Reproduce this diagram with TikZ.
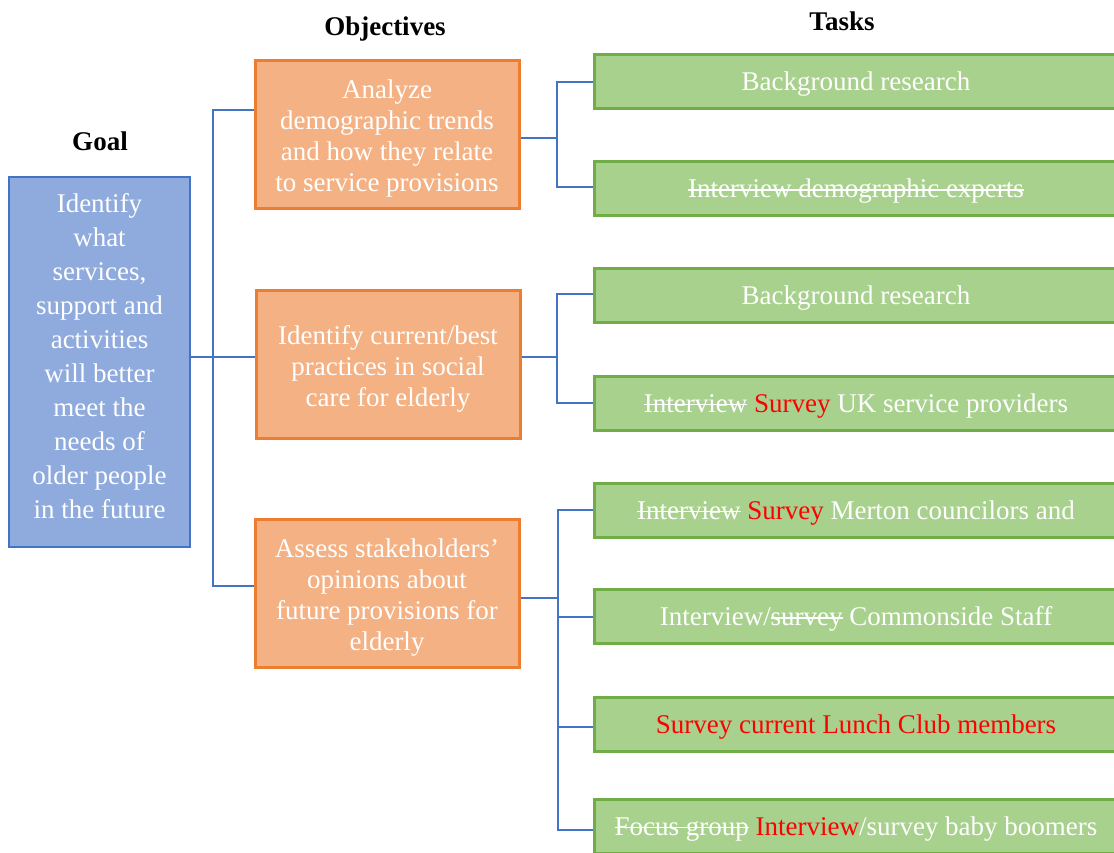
\documentclass[tikz,border=0pt]{standalone}
\usepackage{fontspec}
\setmainfont{Liberation Serif}
\newcommand\strk[1]{\begingroup\setbox0\hbox{#1}\rlap{\rule[0.25em]{\wd0}{1.4pt}}\box0\endgroup}
\newcommand\topstrut[1]{\rule{0pt}{#1}}
\newcommand\botstrut[1]{\rule[-#1]{0pt}{#1}}
\definecolor{goalfill}{RGB}{143,170,220}
\definecolor{goalborder}{RGB}{68,114,196}
\definecolor{objfill}{RGB}{244,177,131}
\definecolor{objborder}{RGB}{237,125,49}
\definecolor{taskfill}{RGB}{169,209,142}
\definecolor{taskborder}{RGB}{112,173,71}
\definecolor{connblue}{RGB}{68,114,196}
\definecolor{redtxt}{RGB}{255,0,0}
\begin{document}
\begin{tikzpicture}[x=1pt,y=-1pt,
  every node/.style={font=\fontsize{27}{31}\selectfont, text=white, align=center, inner sep=0pt},
  goalbox/.style={draw=goalborder, fill=goalfill, line width=2pt, minimum width=181pt, minimum height=370pt, font=\fontsize{27}{34}\selectfont},
  objbox/.style={draw=objborder, fill=objfill, line width=3pt, minimum width=264pt, minimum height=148pt},
  taskbox/.style={draw=taskborder, fill=taskfill, line width=3pt, minimum width=524pt, minimum height=54pt, text height=22pt, text depth=4pt},
  head/.style={text=black, font=\fontsize{27}{31}\selectfont\bfseries},
  conn/.style={draw=connblue, line width=1.3pt}]
\useasboundingbox (0,0) rectangle (1114,853);
\clip (0,0) rectangle (1114,853);
% headings
\node[head] (hgoal) at (100,141) {Goal};
\node[head] (hobj) at (385,29.5) {Objectives};
\node[head] (htask) at (842,21) {Tasks};
% goal
\node[goalbox] (goal) at (99.5,362) {Identify\\ what\\ services,\\ support and\\ activities\\ will better\\ meet the\\ needs of\\ older people\\ in the future\botstrut{12pt}};
% objectives
\node[objbox] (obj1) at (387,135) {\topstrut{26pt}Analyze\\ demographic trends\\ and how they relate\\ to service provisions};
\node[objbox] (obj2) at (388,364) {\topstrut{28.4pt}Identify current/best\\ practices in social\\ care for elderly};
\node[objbox] (obj3) at (387,593.5) {\topstrut{26.4pt}Assess stakeholders’\\ opinions about\\ future provisions for\\ elderly};
% tasks
\node[taskbox] (g1) at (856,82) {Background research};
\node[taskbox] (g2) at (856,188.5) {\strk{Interview demographic experts}};
\node[taskbox] (g3) at (856,295.5) {Background research};
\node[taskbox] (g4) at (856,403) {\strk{Interview} \textcolor{redtxt}{Survey} UK service providers};
\node[taskbox] (g5) at (856,510) {\strk{Interview} \textcolor{redtxt}{Survey} Merton councilors and};
\node[taskbox] (g6) at (856,616.5) {Interview/\strk{survey} Commonside Staff};
\node[taskbox] (g7) at (856,724) {\textcolor{redtxt}{Survey current Lunch Club members}};
\node[taskbox] (g8) at (856,826) {\strk{Focus group} \textcolor{redtxt}{Interview}/survey baby boomers};
% connectors goal -> objectives
\coordinate (gj) at (213,357);
\draw[conn] ([yshift=5pt]goal.east) -- (gj);
\draw[conn] ([yshift=25pt]obj1.west) -| (gj);
\draw[conn] ([yshift=7pt]obj2.west) -- (gj);
\draw[conn] ([yshift=7.5pt]obj3.west) -| (gj);
% objective 1 -> tasks
\coordinate (j1) at (557,138);
\draw[conn] ([yshift=-3pt]obj1.east) -- (j1);
\draw[conn] (g1.west) -| (j1);
\draw[conn] ([yshift=1.5pt]g2.west) -| (j1);
% objective 2 -> tasks
\coordinate (j2) at (557,357);
\draw[conn] ([yshift=7pt]obj2.east) -- (j2);
\draw[conn] ([yshift=1.5pt]g3.west) -| (j2);
\draw[conn] (g4.west) -| (j2);
% objective 3 -> tasks
\coordinate (j3) at (558,598);
\draw[conn] ([yshift=-4.5pt]obj3.east) -- (j3);
\draw[conn] (g5.west) -| (j3);
\draw[conn] ([yshift=-0.5pt]g6.west) -| (j3);
\draw[conn] ([yshift=-3pt]g7.west) -| (j3);
\draw[conn] ([yshift=-4pt]g8.west) -| (j3);
\end{tikzpicture}
\end{document}
